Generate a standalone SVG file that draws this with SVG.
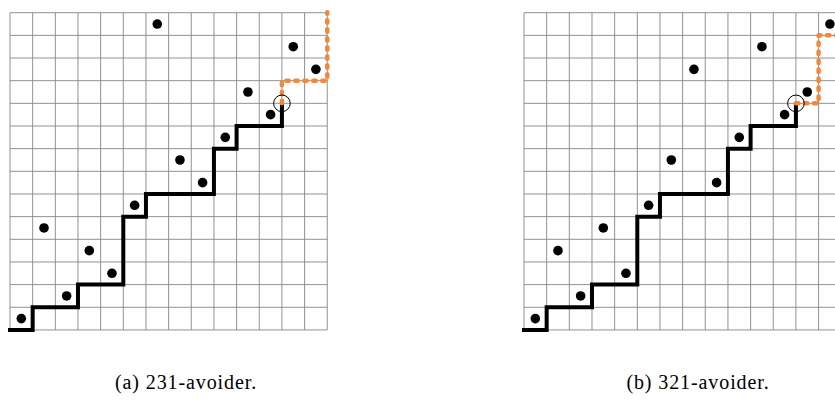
<svg xmlns="http://www.w3.org/2000/svg" width="835" height="408" viewBox="0 0 835 408">
<defs>
<style>
.bg{fill:#ffffff}
.grid{stroke:#868686;stroke-width:0.9;fill:none}
.path{stroke:#000;stroke-width:4;fill:none;stroke-linejoin:miter;stroke-linecap:butt}
.ext{stroke:#f5873b;stroke-width:4.5;fill:none;stroke-dasharray:2.5 6.5;stroke-linecap:round;stroke-linejoin:round}
.dot{fill:#000}
.ring{fill:none;stroke:#000;stroke-width:1}
.cap{font-family:"Liberation Serif",serif;font-size:20px;letter-spacing:0.9px;fill:#000;text-anchor:middle}
</style>
<path id="gridlines" d="M0,0H317.24M0,22.66H317.24M0,45.32H317.24M0,67.98H317.24M0,90.64H317.24M0,113.3H317.24M0,135.96H317.24M0,158.62H317.24M0,181.28H317.24M0,203.94H317.24M0,226.6H317.24M0,249.26H317.24M0,271.92H317.24M0,294.58H317.24M0,317.24H317.24M0,0V317.24M22.66,0V317.24M45.32,0V317.24M67.98,0V317.24M90.64,0V317.24M113.3,0V317.24M135.96,0V317.24M158.62,0V317.24M181.28,0V317.24M203.94,0V317.24M226.6,0V317.24M249.26,0V317.24M271.92,0V317.24M294.58,0V317.24M317.24,0V317.24"/>
</defs>
<rect class="bg" x="0" y="0" width="835" height="408"/>
<g id="panel-a" transform="translate(10,12.7)">
<use href="#gridlines" class="grid"/>
<g id="connectors-a">
<path class="path" d="M-2,317.24H22.66V294.58H67.98V271.92H113.3V203.94H135.96V181.28H203.94V135.96H226.6V113.3H271.92V90.64"/>
<path class="ext" d="M271.92,90.64V67.98H317.24V-0.5"/>
</g>
<g id="points-a">
<circle class="dot" cx="11.33" cy="305.91" r="4.8"/>
<circle class="dot" cx="33.99" cy="215.27" r="4.8"/>
<circle class="dot" cx="56.65" cy="283.25" r="4.8"/>
<circle class="dot" cx="79.31" cy="237.93" r="4.8"/>
<circle class="dot" cx="101.97" cy="260.59" r="4.8"/>
<circle class="dot" cx="124.63" cy="192.61" r="4.8"/>
<circle class="dot" cx="147.29" cy="11.33" r="4.8"/>
<circle class="dot" cx="169.95" cy="147.29" r="4.8"/>
<circle class="dot" cx="192.61" cy="169.95" r="4.8"/>
<circle class="dot" cx="215.27" cy="124.63" r="4.8"/>
<circle class="dot" cx="237.93" cy="79.31" r="4.8"/>
<circle class="dot" cx="260.59" cy="101.97" r="4.8"/>
<circle class="dot" cx="283.25" cy="33.99" r="4.8"/>
<circle class="dot" cx="305.91" cy="56.65" r="4.8"/>
<circle class="ring" cx="271.92" cy="90.64" r="8.3"/>
</g>
</g>
<g id="panel-b" transform="translate(524,12.7)">
<use href="#gridlines" class="grid"/>
<g id="connectors-b">
<path class="path" d="M-2,317.24H22.66V294.58H67.98V271.92H113.3V203.94H135.96V181.28H203.94V135.96H226.6V113.3H271.92V90.64"/>
<path class="ext" d="M271.92,90.64H294.58V22.66H320"/>
</g>
<g id="points-b">
<circle class="dot" cx="11.33" cy="305.91" r="4.8"/>
<circle class="dot" cx="33.99" cy="237.93" r="4.8"/>
<circle class="dot" cx="56.65" cy="283.25" r="4.8"/>
<circle class="dot" cx="79.31" cy="215.27" r="4.8"/>
<circle class="dot" cx="101.97" cy="260.59" r="4.8"/>
<circle class="dot" cx="124.63" cy="192.61" r="4.8"/>
<circle class="dot" cx="147.29" cy="147.29" r="4.8"/>
<circle class="dot" cx="169.95" cy="56.65" r="4.8"/>
<circle class="dot" cx="192.61" cy="169.95" r="4.8"/>
<circle class="dot" cx="215.27" cy="124.63" r="4.8"/>
<circle class="dot" cx="237.93" cy="33.99" r="4.8"/>
<circle class="dot" cx="260.59" cy="101.97" r="4.8"/>
<circle class="dot" cx="283.25" cy="79.31" r="4.8"/>
<circle class="dot" cx="305.91" cy="11.33" r="4.8"/>
<circle class="ring" cx="271.92" cy="90.64" r="8.3"/>
</g>
</g>
<g id="captions">
<text class="cap" x="186" y="389">(a) 231-avoider.</text>
<text class="cap" x="698" y="389">(b) 321-avoider.</text>
</g>
</svg>
